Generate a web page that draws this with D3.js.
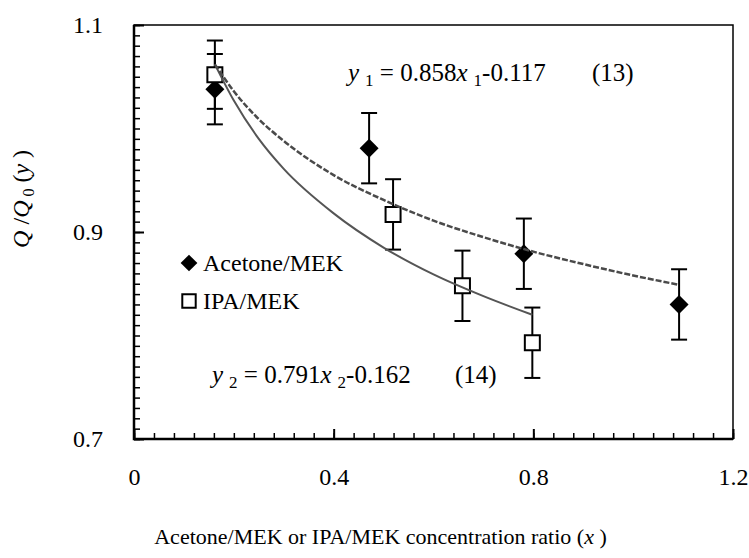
<!DOCTYPE html>
<html>
<head>
<meta charset="utf-8">
<script src="https://cdn.jsdelivr.net/npm/d3@7"></script>
<style>
  body { margin: 0; background: #fff; }
  svg text { font-family: "Liberation Serif", Tinos, "Times New Roman", Times, serif !important; fill: #000; }
</style>
</head>
<body>
<div id="chart"></div>
<script>
    // Data
    const acetoneX = [0.162, 0.471, 0.781, 1.092];
    const acetoneY = [1.038, 0.981, 0.879, 0.830];
    const acetoneErr = [0.034, 0.034, 0.034, 0.034];

    const ipaX = [0.162, 0.519, 0.658, 0.798];
    const ipaY = [1.052, 0.917, 0.848, 0.793];
    const ipaErr = [0.033, 0.034, 0.034, 0.034];

    // fitted curves (13) and (14)
    const fit1X = [0.162, 0.2, 0.25, 0.3, 0.4, 0.5, 0.6, 0.7, 0.8, 0.9, 1.0, 1.092];
    const fit1Y = [1.062, 1.036, 1.009, 0.988, 0.955, 0.931, 0.911, 0.895, 0.881, 0.869, 0.858, 0.849];
    const fit2X = [0.162, 0.2, 0.25, 0.3, 0.4, 0.5, 0.6, 0.7, 0.798];
    const fit2Y = [1.062, 1.027, 0.990, 0.961, 0.918, 0.885, 0.859, 0.838, 0.820];

    const xTicks = [0, 0.4, 0.8, 1.2];
    const yTicks = [0.7, 0.9, 1.1];

    // Set up the dimensions
    const margin = {top: 25, right: 16, bottom: 119, left: 134};
    const width = 749 - margin.left - margin.right;
    const height = 558 - margin.top - margin.bottom;

    const svg = d3.select("#chart")
        .append("svg")
        .attr("width", 749)
        .attr("height", 558)
        .append("g")
        .attr("transform", `translate(${margin.left},${margin.top})`);

    const x = d3.scaleLinear().domain([0, 1.2]).range([0, width]);
    const y = d3.scaleLinear().domain([0.7, 1.1]).range([height, 0]);

    // minor ticks (inside)
    const xMinor = d3.range(0, 1.2001, 0.04);
    const yMinor = d3.range(0.7, 1.1001, 0.01);

    svg.append("g")
        .attr("transform", `translate(0,${height})`)
        .call(d3.axisTop(x).tickValues(xMinor).tickSize(6).tickFormat(""))
        .call(g => g.select(".domain").remove())
        .selectAll("line").attr("stroke-width", 1.5);

    svg.append("g")
        .attr("transform", `translate(0,${height})`)
        .call(d3.axisTop(x).tickValues(xTicks).tickSize(10).tickFormat(""))
        .call(g => g.select(".domain").remove())
        .selectAll("line").attr("stroke-width", 2);

    svg.append("g")
        .call(d3.axisRight(y).tickValues(yMinor).tickSize(6).tickFormat(""))
        .call(g => g.select(".domain").remove())
        .selectAll("line").attr("stroke-width", 1.5);

    svg.append("g")
        .call(d3.axisRight(y).tickValues(yTicks).tickSize(10).tickFormat(""))
        .call(g => g.select(".domain").remove())
        .selectAll("line").attr("stroke-width", 2);

    // tick labels
    svg.append("g")
        .attr("transform", `translate(0,${height})`)
        .call(d3.axisBottom(x).tickValues(xTicks).tickSize(0).tickPadding(29)
            .tickFormat(d => d === 0 ? "0" : d3.format(".1f")(d)))
        .call(g => g.select(".domain").remove())
        .selectAll("text")
        .style("font-size", "24px");

    svg.append("g")
        .call(d3.axisLeft(y).tickValues(yTicks).tickSize(0).tickPadding(31)
            .tickFormat(d3.format(".1f")))
        .call(g => g.select(".domain").remove())
        .selectAll("text")
        .style("font-size", "24px");

    // frame
    svg.append("rect")
        .attr("width", width)
        .attr("height", height)
        .attr("fill", "none")
        .attr("stroke", "#000")
        .attr("stroke-width", 1.5);
    svg.append("path")
        .attr("d", `M0,0V${height}H${width}`)
        .attr("fill", "none")
        .attr("stroke", "#000")
        .attr("stroke-width", 2.5);

    const acetone = acetoneX.map((v, i) => ({x: v, y: acetoneY[i], e: acetoneErr[i]}));
    const ipa = ipaX.map((v, i) => ({x: v, y: ipaY[i], e: ipaErr[i]}));

    // error bars
    function errorBars(data) {
        const g = svg.append("g").attr("stroke", "#000").attr("stroke-width", 2);
        data.forEach(d => {
            g.append("line").attr("x1", x(d.x)).attr("x2", x(d.x))
                .attr("y1", y(d.y + d.e)).attr("y2", y(d.y - d.e));
            g.append("line").attr("x1", x(d.x) - 8).attr("x2", x(d.x) + 8)
                .attr("y1", y(d.y + d.e)).attr("y2", y(d.y + d.e));
            g.append("line").attr("x1", x(d.x) - 8).attr("x2", x(d.x) + 8)
                .attr("y1", y(d.y - d.e)).attr("y2", y(d.y - d.e));
        });
    }
    errorBars(acetone);
    errorBars(ipa);

    const diamond = d3.symbol().type(d3.symbolSquare).size(180);
    const square = d3.symbol().type(d3.symbolSquare).size(225);

    svg.selectAll(".dia")
        .data(acetone)
        .enter()
        .append("path")
        .attr("class", "dia")
        .attr("d", diamond)
        .attr("transform", d => `translate(${x(d.x)},${y(d.y)}) rotate(45)`)
        .attr("fill", "#000");

    svg.selectAll(".sq")
        .data(ipa)
        .enter()
        .append("path")
        .attr("class", "sq")
        .attr("d", square)
        .attr("transform", d => `translate(${x(d.x)},${y(d.y)})`)
        .attr("fill", "#fff")
        .attr("stroke", "#000")
        .attr("stroke-width", 2);

    // fitted curves
    const line = d3.line()
        .x(d => x(d[0]))
        .y(d => y(d[1]))
        .curve(d3.curveMonotoneX);

    svg.append("path")
        .attr("d", line(fit2X.map((v, i) => [v, fit2Y[i]])))
        .attr("fill", "none")
        .attr("stroke", "#555")
        .attr("stroke-width", 2);

    svg.append("path")
        .attr("d", line(fit1X.map((v, i) => [v, fit1Y[i]])))
        .attr("fill", "none")
        .attr("stroke", "#4a4a4a")
        .attr("stroke-width", 2.5)
        .attr("stroke-dasharray", "6,2");

    // equations
    function equation(tx, ty, sub, body, num, nx) {
        const t = svg.append("text")
            .attr("x", tx).attr("y", ty)
            .style("font-size", "25px");
        t.append("tspan").style("font-style", "italic").text("y");
        t.append("tspan").attr("dx", 6).attr("dy", 5).style("font-size", "17px").text(sub);
        t.append("tspan").attr("dy", -5).text(" = " + body[0]);
        t.append("tspan").style("font-style", "italic").text("x");
        t.append("tspan").attr("dx", 6).attr("dy", 5).style("font-size", "17px").text(sub);
        t.append("tspan").attr("dy", -5).text(body[1]);
        svg.append("text")
            .attr("x", nx).attr("y", ty)
            .style("font-size", "25px")
            .text(num);
    }
    equation(214, 56, "1", ["0.858", "-0.117"], "(13)", 458);
    equation(78, 358, "2", ["0.791", "-0.162"], "(14)", 321);

    // legend
    const legend = svg.append("g");
    legend.append("path")
        .attr("d", d3.symbol().type(d3.symbolSquare).size(140))
        .attr("transform", "translate(55,238) rotate(45)")
        .attr("fill", "#000");
    legend.append("text")
        .attr("x", 69).attr("y", 246)
        .style("font-size", "24px")
        .text("Acetone/MEK");
    legend.append("path")
        .attr("d", d3.symbol().type(d3.symbolSquare).size(180))
        .attr("transform", "translate(55,276)")
        .attr("fill", "#fff")
        .attr("stroke", "#000")
        .attr("stroke-width", 2);
    legend.append("text")
        .attr("x", 69).attr("y", 284)
        .style("font-size", "24px")
        .text("IPA/MEK");

    // axis labels
    const xl = svg.append("text")
        .attr("text-anchor", "middle")
        .attr("x", width / 2 - 53)
        .attr("y", height + 105)
        .style("font-size", "22px");
    xl.append("tspan").text("Acetone/MEK or IPA/MEK concentration ratio (");
    xl.append("tspan").style("font-style", "italic").text("x");
    xl.append("tspan").text(" )");

    const yl = svg.append("text")
        .attr("text-anchor", "middle")
        .attr("transform", `translate(-105,${y(0.932)}) rotate(-90)`)
        .style("font-size", "24px");
    yl.append("tspan").style("font-style", "italic").text("Q");
    yl.append("tspan").text(" /");
    yl.append("tspan").style("font-style", "italic").text("Q");
    yl.append("tspan").attr("dy", 5).style("font-size", "16px").text(" 0");
    yl.append("tspan").attr("dy", -5).text(" (");
    yl.append("tspan").style("font-style", "italic").text("y");
    yl.append("tspan").text(" )");
</script>
</body>
</html>
